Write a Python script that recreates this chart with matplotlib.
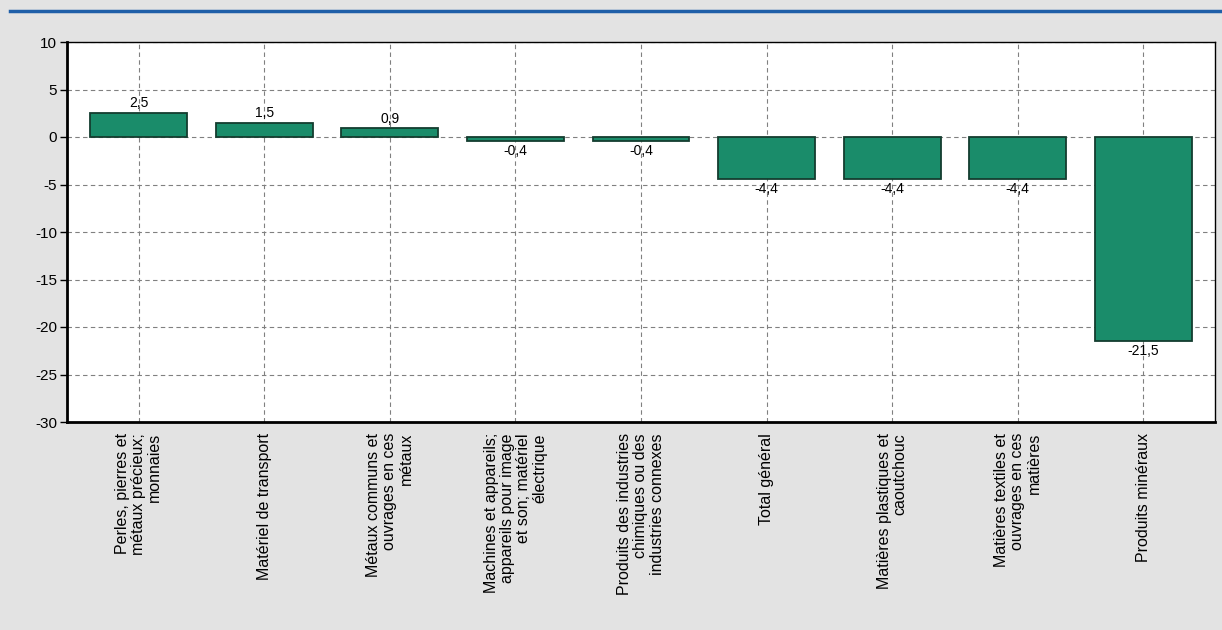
import matplotlib
matplotlib.use("Agg")
import matplotlib.pyplot as plt
import numpy as np

plt.rcParams['font.family'] = ['Liberation Sans', 'DejaVu Sans']

categories = [
    "Perles, pierres et\nmétaux précieux;\nmonnaies",
    "Matériel de transport",
    "Métaux communs et\nouvrages en ces\nmétaux",
    "Machines et appareils;\nappareils pour image\net son; matériel\nélectrique",
    "Produits des industries\nchimiques ou des\nindustries connexes",
    "Total général",
    "Matières plastiques et\ncaoutchouc",
    "Matières textiles et\nouvrages en ces\nmatières",
    "Produits minéraux",
]
values = [2.5, 1.5, 0.9, -0.4, -0.4, -4.4, -4.4, -4.4, -21.5]
yticks = [10, 5, 0, -5, -10, -15, -20, -25, -30]

bg = '#e3e3e3'
fig = plt.figure(figsize=(12.22, 6.30), dpi=100, facecolor=bg)
# blue rule at the top
fig.add_artist(plt.Line2D([0.008, 1.0], [0.983, 0.983], color='#1f5fa8', lw=2.5))

ax = fig.add_axes([67/1222, 1 - 422/630, (1215-67)/1222, (422-42)/630])
x = np.arange(len(values))
ax.bar(x, values, width=0.77, color='#1a8c6a', edgecolor='#143d2f', linewidth=1.3, zorder=3)

for xi, v in zip(x, values):
    txt = f"{v:.1f}".replace('.', ',')
    if v >= 0:
        ax.annotate(txt, (xi, v), xytext=(0, 2), textcoords='offset points',
                    ha='center', va='bottom', fontsize=10, zorder=4)
    else:
        ax.annotate(txt, (xi, v), xytext=(0, -2), textcoords='offset points',
                    ha='center', va='top', fontsize=10, zorder=4)

ax.set_xlim(-0.57, len(values) - 0.43)
ax.set_ylim(-30, 10)
ax.set_yticks(yticks)
ax.set_yticklabels([str(t) for t in yticks], fontsize=11)
ax.set_xticks(x)
ax.set_xticklabels(categories, rotation=90, fontsize=11.5, va='top', ha='center',
                   multialignment='right', linespacing=1.1)
ax.tick_params(axis='x', length=0, pad=8)
ax.tick_params(axis='y', length=5, width=1, direction='out', pad=2)
ax.grid(True, linestyle=(0, (4, 3)), color='#808080', linewidth=0.8, zorder=0)
ax.set_facecolor('white')
ax.spines['left'].set_linewidth(2)
ax.spines['bottom'].set_linewidth(2)
ax.spines['top'].set_linewidth(1)
ax.spines['right'].set_linewidth(1)

fig.savefig('out.png', dpi=100, facecolor=bg)
